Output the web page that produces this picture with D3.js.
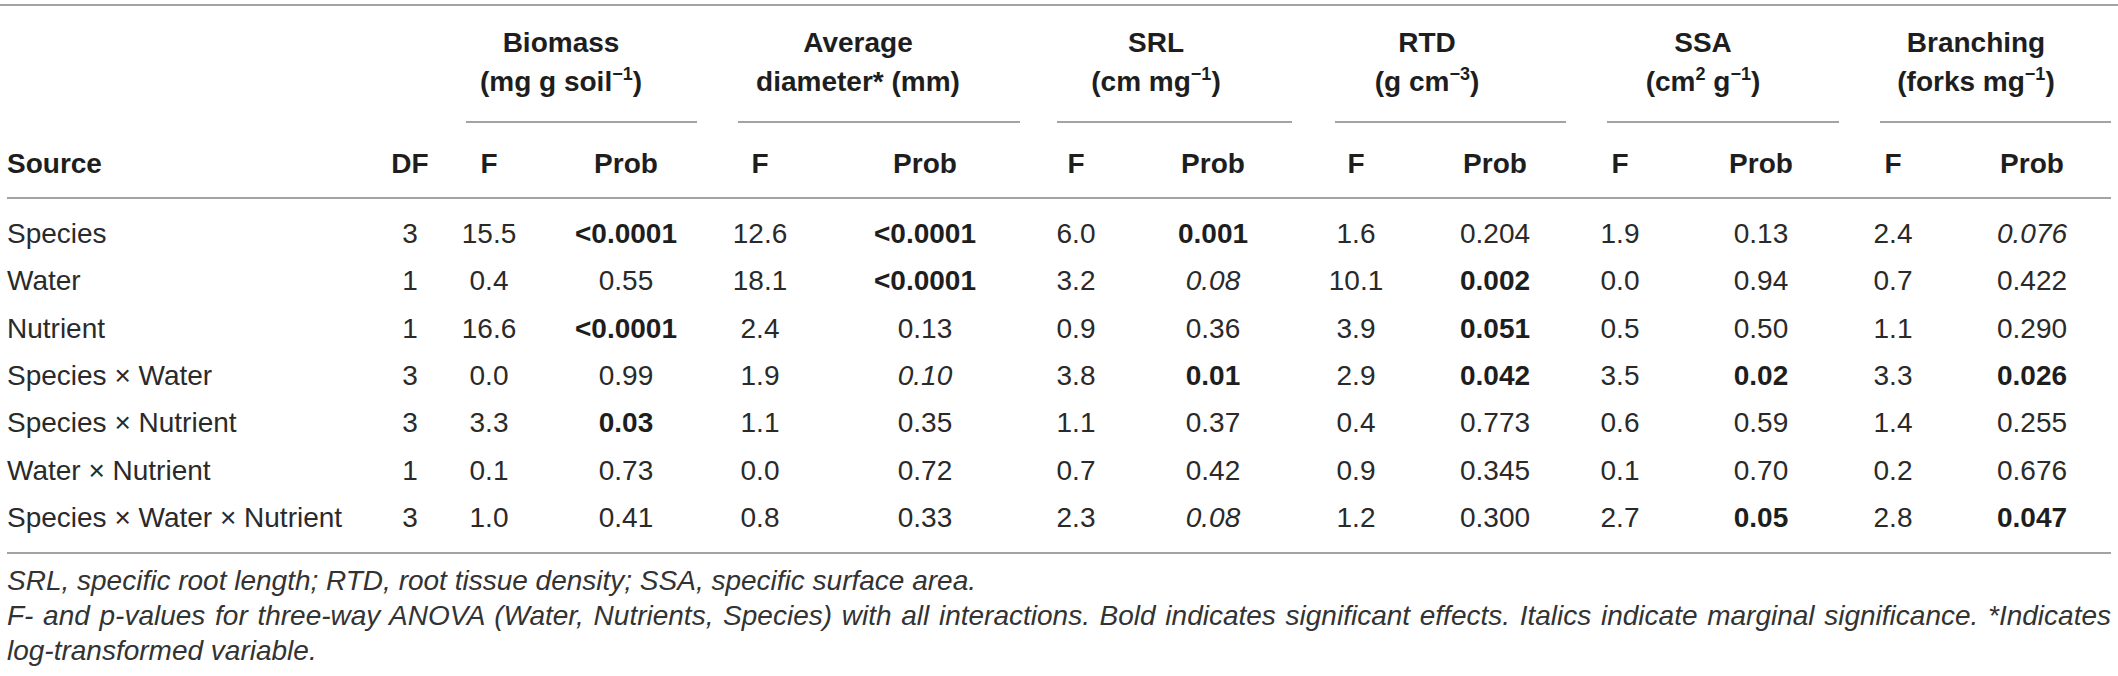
<!DOCTYPE html>
<html><head><meta charset="utf-8">
<script src="https://cdn.jsdelivr.net/npm/d3@7"></script>
<style>
html,body{margin:0;padding:0;background:#fff;}
svg text{font-family:"Liberation Sans",Arial,Helvetica,sans-serif;fill:#1e1e1e;}
</style></head>
<body>
<svg id="t" width="2118" height="676"></svg>
<script>
// ---- data ----
const sources = ["Species","Water","Nutrient","Species × Water","Species × Nutrient","Water × Nutrient","Species × Water × Nutrient"];
const df = ["3","1","1","3","3","1","3"];
const traits = ["Biomass","Average","SRL","RTD","SSA","Branching"];
const headerLine1 = ["Biomass","Average","SRL","RTD","SSA","Branching"];
const headerLine2 = [
  [["(mg g soil",0],["−1",1],[")",0]],
  [["diameter* (mm)",0]],
  [["(cm mg",0],["−1",1],[")",0]],
  [["(g cm",0],["−3",1],[")",0]],
  [["(cm",0],["2",1],[" g",0],["−1",1],[")",0]],
  [["(forks mg",0],["−1",1],[")",0]]
];
const biomassF   = ["15.5","0.4","16.6","0.0","3.3","0.1","1.0"];
const biomassP   = ["<0.0001","0.55","<0.0001","0.99","0.03","0.73","0.41"];
const biomassSig = ["s","","s","","s","",""];
const diameterF   = ["12.6","18.1","2.4","1.9","1.1","0.0","0.8"];
const diameterP   = ["<0.0001","<0.0001","0.13","0.10","0.35","0.72","0.33"];
const diameterSig = ["s","s","","m","","",""];
const srlF   = ["6.0","3.2","0.9","3.8","1.1","0.7","2.3"];
const srlP   = ["0.001","0.08","0.36","0.01","0.37","0.42","0.08"];
const srlSig = ["s","m","","s","","","m"];
const rtdF   = ["1.6","10.1","3.9","2.9","0.4","0.9","1.2"];
const rtdP   = ["0.204","0.002","0.051","0.042","0.773","0.345","0.300"];
const rtdSig = ["","s","s","s","","",""];
const ssaF   = ["1.9","0.0","0.5","3.5","0.6","0.1","2.7"];
const ssaP   = ["0.13","0.94","0.50","0.02","0.59","0.70","0.05"];
const ssaSig = ["","","","s","","","s"];
const branchF   = ["2.4","0.7","1.1","3.3","1.4","0.2","2.8"];
const branchP   = ["0.076","0.422","0.290","0.026","0.255","0.676","0.047"];
const branchSig = ["m","","","s","","","s"];
const footnotes = [
  "SRL, specific root length; RTD, root tissue density; SSA, specific surface area.",
  "F- and p-values for three-way ANOVA (Water, Nutrients, Species) with all interactions. Bold indicates significant effects. Italics indicate marginal significance. *Indicates",
  "log-transformed variable."
];

const Fvals = [biomassF,diameterF,srlF,rtdF,ssaF,branchF];
const Pvals = [biomassP,diameterP,srlP,rtdP,ssaP,branchP];
const Sigs  = [biomassSig,diameterSig,srlSig,rtdSig,ssaSig,branchSig];

// ---- layout ----
const svg = d3.select("#t");
const FS = 28;
const left = 7, right = 2111;
const y = d3.scalePoint().domain(sources).range([243, 527]);
const ulStart = d3.scaleOrdinal().domain(traits).range([466,738,1057,1335,1607,1880]);
const ulEnd   = d3.scaleOrdinal().domain(traits).range([697,1020,1292,1566,1839,2111]);
const xF = d3.scaleOrdinal().domain(traits).range([489,760,1076,1356,1620,1893]);
const xP = d3.scaleOrdinal().domain(traits).range([626,925,1213,1495,1761,2032]);
const xH = d3.scaleOrdinal().domain(traits).range([561,858,1156,1427,1703,1976]);
const xDF = 410;
const ruleColor = "#a3a3a3";

function rule(x1,x2,yy){
  svg.append("line").attr("x1",x1).attr("x2",x2).attr("y1",yy).attr("y2",yy)
    .attr("stroke",ruleColor).attr("stroke-width",2);
}
rule(0,2118,5);
rule(left,right,198);
rule(left,right,553);
traits.forEach(t=>rule(ulStart(t),ulEnd(t),122));

// group headers
const gh = svg.append("g").attr("font-weight","bold").attr("font-size",FS).attr("text-anchor","middle");
traits.forEach((t,i)=>{
  gh.append("text").attr("x",xH(t)).attr("y",52).text(headerLine1[i]);
  const tx = gh.append("text").attr("x",xH(t)).attr("y",91);
  let prevSup=0;
  headerLine2[i].forEach(([s,sup])=>{
    const sp = tx.append("tspan").text(s);
    if(sup && !prevSup){ sp.attr("dy",-11).attr("font-size",18); }
    else if(!sup && prevSup){ sp.attr("dy",11); }
    else if(sup){ sp.attr("font-size",18); }
    prevSup = sup;
  });
});

// subheader
const sh = svg.append("g").attr("font-weight","bold").attr("font-size",FS);
sh.append("text").attr("x",left).attr("y",173).text("Source");
sh.append("text").attr("x",xDF).attr("y",173).attr("text-anchor","middle").text("DF");
traits.forEach(t=>{
  sh.append("text").attr("x",xF(t)).attr("y",173).attr("text-anchor","middle").text("F");
  sh.append("text").attr("x",xP(t)).attr("y",173).attr("text-anchor","middle").text("Prob");
});

// body
const body = svg.append("g").attr("font-size",FS);
body.selectAll("text.src").data(sources).join("text").attr("class","src")
  .attr("x",left).attr("y",d=>y(d)).style("fill","#2a2a2a").text(d=>d);
body.selectAll("text.df").data(df).join("text").attr("class","df")
  .attr("x",xDF).attr("y",(d,i)=>y(sources[i])).attr("text-anchor","middle").style("fill","#2a2a2a").text(d=>d);
traits.forEach((t,k)=>{
  body.selectAll("text.f"+k).data(Fvals[k]).join("text").attr("class","f"+k)
    .attr("x",xF(t)).attr("y",(d,i)=>y(sources[i])).attr("text-anchor","middle")
    .style("fill","#2a2a2a").text(d=>d);
  body.selectAll("text.p"+k).data(Pvals[k]).join("text").attr("class","p"+k)
    .attr("x",xP(t)).attr("y",(d,i)=>y(sources[i])).attr("text-anchor","middle")
    .attr("font-weight",(d,i)=>Sigs[k][i]==="s"?"bold":"normal")
    .attr("font-style",(d,i)=>Sigs[k][i]==="m"?"italic":"normal")
    .style("fill",(d,i)=>Sigs[k][i]==="s"?"#1e1e1e":"#2a2a2a")
    .text(d=>d);
});

// footnotes
const fy = [590,625,660];
const fn = svg.append("g").attr("font-size",28).attr("font-style","italic");
footnotes.forEach((s,i)=>{
  const tx = fn.append("text").attr("x",left).attr("y",fy[i]).style("fill","#333").text(s);
  if(i===1){
    const w = tx.node().getComputedTextLength();
    const n = s.split(" ").length-1;
    tx.attr("word-spacing",(right-left-w)/n);
  }
});
</script>
</body></html>
